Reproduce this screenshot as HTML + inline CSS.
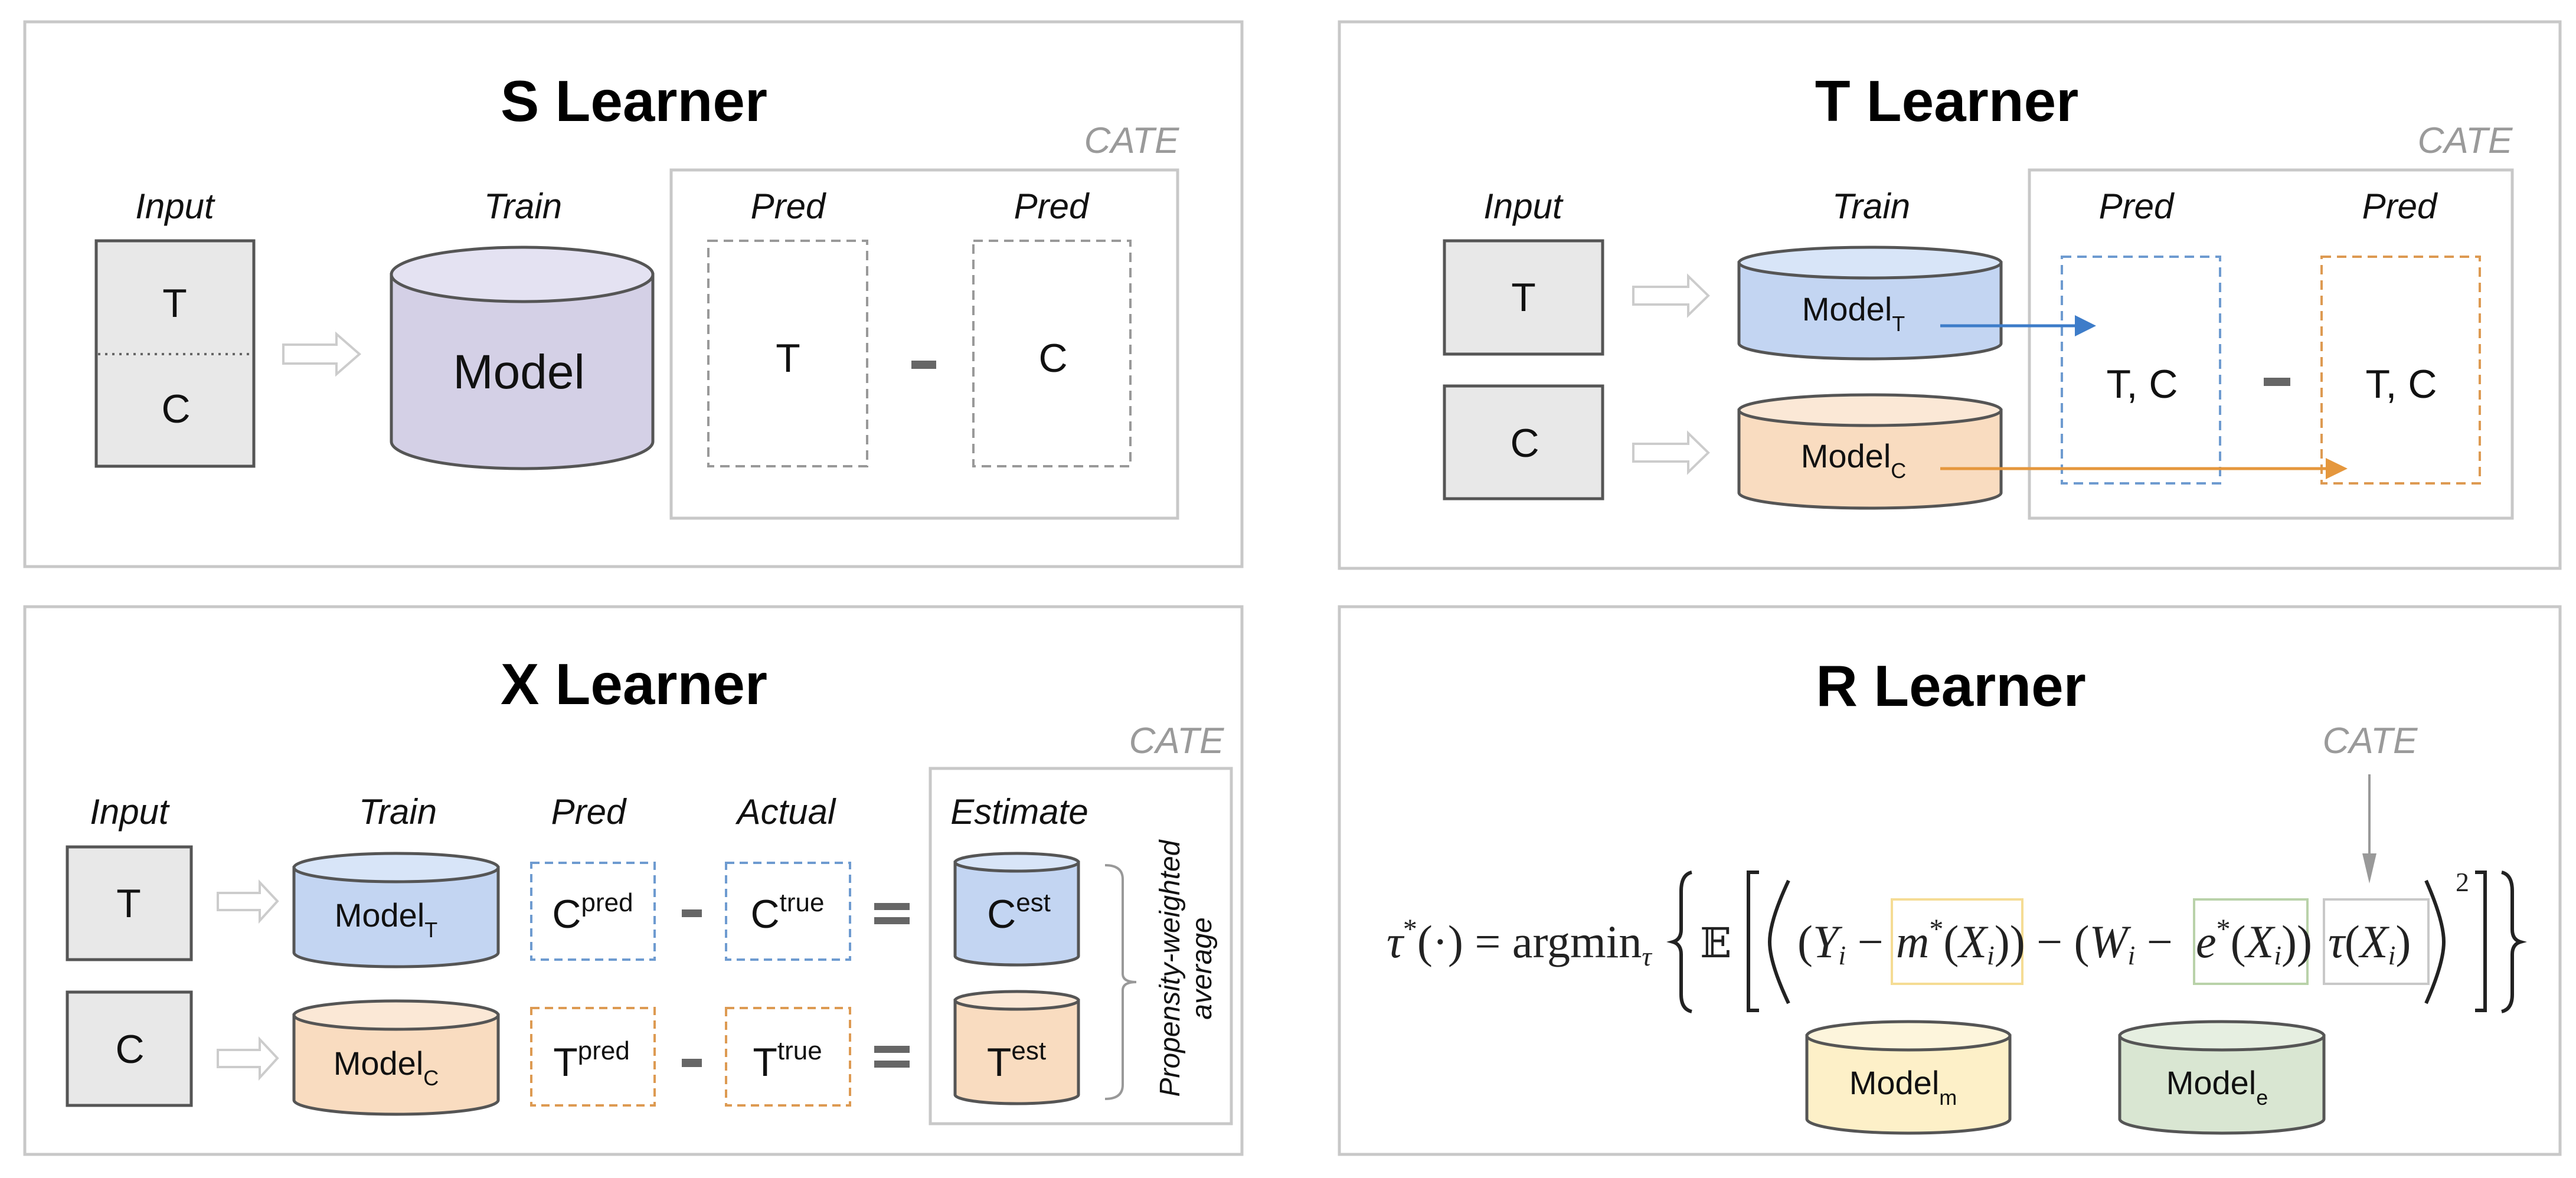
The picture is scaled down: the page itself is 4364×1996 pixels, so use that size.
<!DOCTYPE html>
<html><head><meta charset="utf-8"><style>
html,body{margin:0;padding:0;background:#fff}
svg{display:block}
.t{font-family:"Liberation Sans",sans-serif;font-weight:bold;font-size:98px;fill:#000;text-anchor:middle}
.l{font-family:"Liberation Sans",sans-serif;font-style:italic;font-size:60px;fill:#111;text-anchor:middle}
.c{font-family:"Liberation Sans",sans-serif;font-style:italic;font-size:62px;fill:#9a9a9a;text-anchor:middle}
.n{font-family:"Liberation Sans",sans-serif;font-size:68px;fill:#111;text-anchor:middle}
.m{font-family:"Liberation Sans",sans-serif;font-size:56px;fill:#111;text-anchor:middle}
.e{font-family:"Liberation Serif","DejaVu Serif",serif;font-size:78px;fill:#222}
</style></head><body>
<svg width="4364" height="1996" viewBox="0 0 4364 1996" xmlns="http://www.w3.org/2000/svg">
<g fill="none" stroke="#c8c8c8" stroke-width="5">
<rect x="42" y="37" width="2062" height="923"/>
<rect x="2269" y="37" width="2068" height="926"/>
<rect x="42" y="1028" width="2062" height="928"/>
<rect x="2269" y="1028" width="2068" height="928"/>
</g>

<!-- ===== S Learner ===== -->
<text class="t" x="1074" y="205">S Learner</text>
<text class="c" x="1917" y="259">CATE</text>
<rect x="1137" y="288" width="858" height="590" fill="none" stroke="#c8c8c8" stroke-width="5"/>
<text class="l" x="296" y="370">Input</text>
<text class="l" x="886" y="370">Train</text>
<text class="l" x="1335" y="370">Pred</text>
<text class="l" x="1781" y="370">Pred</text>
<rect x="163" y="408" width="267" height="382" fill="#e8e8e8" stroke="#555" stroke-width="5"/>
<line x1="166" y1="600" x2="428" y2="600" stroke="#666" stroke-width="4" stroke-dasharray="4 8"/>
<text class="n" x="296" y="537">T</text>
<text class="n" x="298" y="716">C</text>
<polygon points="480,584 570,584 570,566 609,600 570,634 570,616 480,616" fill="#fff" stroke="#ccc" stroke-width="4"/>
<path d="M663,465 L663,748 A221.5,46 0 0 0 1106,748 L1106,465 Z" fill="#d4d0e6" stroke="#555" stroke-width="5"/>
<ellipse cx="884.5" cy="465" rx="221.5" ry="46" fill="#e4e2f2" stroke="#555" stroke-width="5"/>
<text class="n" x="879" y="658" style="font-size:82px">Model</text>
<g fill="none" stroke="#999" stroke-width="4" stroke-dasharray="16 10">
<rect x="1200" y="408" width="269" height="382"/>
<rect x="1649" y="408" width="266" height="382"/>
</g>
<text class="n" x="1335" y="630">T</text>
<text class="n" x="1784" y="630">C</text>
<rect x="1544" y="611" width="42" height="14" fill="#666"/>

<!-- ===== T Learner ===== -->
<text class="t" x="3298" y="205">T Learner</text>
<text class="c" x="4176" y="259">CATE</text>
<rect x="3438" y="288" width="818" height="590" fill="none" stroke="#c8c8c8" stroke-width="5"/>
<text class="l" x="2580" y="370">Input</text>
<text class="l" x="3170" y="370">Train</text>
<text class="l" x="3619" y="370">Pred</text>
<text class="l" x="4065" y="370">Pred</text>
<rect x="2447" y="408" width="268" height="192" fill="#e8e8e8" stroke="#555" stroke-width="5"/>
<rect x="2447" y="654" width="268" height="191" fill="#e8e8e8" stroke="#555" stroke-width="5"/>
<text class="n" x="2581" y="527">T</text>
<text class="n" x="2583" y="774">C</text>
<polygon points="2767,486 2860,486 2860,468 2894,501 2860,534 2860,516 2767,516" fill="#fff" stroke="#ccc" stroke-width="4"/>
<polygon points="2767,752 2860,752 2860,734 2894,767 2860,800 2860,782 2767,782" fill="#fff" stroke="#ccc" stroke-width="4"/>
<path d="M2946,445 L2946,582 A222,26 0 0 0 3390,582 L3390,445 Z" fill="#c3d5f2" stroke="#555" stroke-width="5"/>
<ellipse cx="3168" cy="445" rx="222" ry="26" fill="#d8e5f8" stroke="#555" stroke-width="5"/>
<path d="M2946,695 L2946,835 A222,26 0 0 0 3390,835 L3390,695 Z" fill="#f9dcc0" stroke="#555" stroke-width="5"/>
<ellipse cx="3168" cy="695" rx="222" ry="26" fill="#fbe8d6" stroke="#555" stroke-width="5"/>
<text class="m" x="3140" y="543">Model<tspan font-size="36" dy="18">T</tspan></text>
<text class="m" x="3140" y="792">Model<tspan font-size="36" dy="18">C</tspan></text>
<rect x="3493" y="435" width="268" height="384" fill="none" stroke="#6e9bd0" stroke-width="4" stroke-dasharray="16 10"/>
<rect x="3933" y="435" width="268" height="384" fill="none" stroke="#dd9a52" stroke-width="4" stroke-dasharray="16 10"/>
<text class="n" x="3629" y="674">T, C</text>
<text class="n" x="4068" y="674">T, C</text>
<rect x="3835" y="640" width="45" height="14" fill="#666"/>
<line x1="3287" y1="552" x2="3520" y2="552" stroke="#3d7cc9" stroke-width="5"/>
<polygon points="3515,534 3551,552 3515,570" fill="#3d7cc9"/>
<line x1="3287" y1="794" x2="3945" y2="794" stroke="#e5973d" stroke-width="5"/>
<polygon points="3940,776 3977,794 3940,812" fill="#e5973d"/>

<!-- ===== X Learner ===== -->
<text class="t" x="1074" y="1193">X Learner</text>
<text class="c" x="1993" y="1276">CATE</text>
<rect x="1576" y="1302" width="510" height="602" fill="none" stroke="#c8c8c8" stroke-width="5"/>
<text class="l" x="219" y="1396">Input</text>
<text class="l" x="674" y="1396">Train</text>
<text class="l" x="997" y="1396">Pred</text>
<text class="l" x="1332" y="1396">Actual</text>
<text class="l" x="1727" y="1396">Estimate</text>
<rect x="114" y="1435" width="210" height="191" fill="#e8e8e8" stroke="#555" stroke-width="5"/>
<rect x="114" y="1681" width="210" height="192" fill="#e8e8e8" stroke="#555" stroke-width="5"/>
<text class="n" x="218" y="1554">T</text>
<text class="n" x="220" y="1801">C</text>
<polygon points="369,1513 440,1513 440,1495 470,1527 440,1560 440,1542 369,1542" fill="#fff" stroke="#ccc" stroke-width="4"/>
<polygon points="369,1779 440,1779 440,1761 470,1793 440,1826 440,1808 369,1808" fill="#fff" stroke="#ccc" stroke-width="4"/>
<path d="M498,1470 L498,1614 A173,24 0 0 0 844,1614 L844,1470 Z" fill="#c3d5f2" stroke="#555" stroke-width="5"/>
<ellipse cx="671" cy="1470" rx="173" ry="24" fill="#d8e5f8" stroke="#555" stroke-width="5"/>
<path d="M498,1720 L498,1864 A173,24 0 0 0 844,1864 L844,1720 Z" fill="#f9dcc0" stroke="#555" stroke-width="5"/>
<ellipse cx="671" cy="1720" rx="173" ry="24" fill="#fbe8d6" stroke="#555" stroke-width="5"/>
<text class="m" x="654" y="1570">Model<tspan font-size="36" dy="18">T</tspan></text>
<text class="m" x="654" y="1821">Model<tspan font-size="36" dy="18">C</tspan></text>
<g fill="none" stroke-width="4" stroke-dasharray="14 9">
<rect x="900" y="1462" width="209" height="164" stroke="#6e9bd0"/>
<rect x="1230" y="1462" width="210" height="164" stroke="#6e9bd0"/>
<rect x="900" y="1708" width="209" height="165" stroke="#dd9a52"/>
<rect x="1230" y="1708" width="210" height="165" stroke="#dd9a52"/>
</g>
<text class="n" x="1004" y="1572">C<tspan font-size="44" dy="-28">pred</tspan></text>
<text class="n" x="1334" y="1572">C<tspan font-size="44" dy="-28">true</tspan></text>
<text class="n" x="1002" y="1823">T<tspan font-size="44" dy="-28">pred</tspan></text>
<text class="n" x="1334" y="1823">T<tspan font-size="44" dy="-28">true</tspan></text>
<rect x="1155" y="1541" width="34" height="13" fill="#666"/>
<rect x="1155" y="1794" width="34" height="14" fill="#666"/>
<g fill="#666">
<rect x="1481" y="1530" width="60" height="12"/><rect x="1481" y="1554" width="60" height="12"/>
<rect x="1481" y="1772" width="60" height="12"/><rect x="1481" y="1797" width="60" height="12"/>
</g>
<path d="M1618,1461 L1618,1620 A104.5,15 0 0 0 1827,1620 L1827,1461 Z" fill="#c3d5f2" stroke="#555" stroke-width="5"/>
<ellipse cx="1722.5" cy="1461" rx="104.5" ry="15" fill="#d8e5f8" stroke="#555" stroke-width="5"/>
<path d="M1618,1695 L1618,1855 A104.5,15 0 0 0 1827,1855 L1827,1695 Z" fill="#f9dcc0" stroke="#555" stroke-width="5"/>
<ellipse cx="1722.5" cy="1695" rx="104.5" ry="15" fill="#fbe8d6" stroke="#555" stroke-width="5"/>
<text class="n" x="1726" y="1572">C<tspan font-size="44" dy="-28">est</tspan></text>
<text class="n" x="1722" y="1823">T<tspan font-size="44" dy="-28">est</tspan></text>
<path d="M1872,1466 Q1902,1466 1902,1490 L1902,1650 Q1902,1664 1925,1664 Q1902,1664 1902,1678 L1902,1838 Q1902,1862 1872,1862" fill="none" stroke="#999" stroke-width="4"/>
<g transform="translate(2012,1641) rotate(-90)">
<text class="l" x="0" y="-14" style="font-size:48px;fill:#111">Propensity-weighted</text>
<text class="l" x="0" y="40" style="font-size:48px;fill:#111">average</text>
</g>

<!-- ===== R Learner ===== -->
<text class="t" x="3305" y="1196">R Learner</text>
<text class="c" x="4015" y="1276">CATE</text>
<line x1="4014" y1="1312" x2="4014" y2="1450" stroke="#999" stroke-width="4"/>
<polygon points="4002,1446 4026,1446 4014,1497" fill="#999"/>
<rect x="3205" y="1524" width="221" height="143" fill="none" stroke="#f5dc94" stroke-width="4"/>
<rect x="3717" y="1524" width="192" height="143" fill="none" stroke="#b9d2a9" stroke-width="4"/>
<rect x="3937" y="1524" width="177" height="143" fill="none" stroke="#c8c8c8" stroke-width="4"/>
<text class="e" x="2349" y="1622"><tspan font-style="italic">τ</tspan><tspan font-size="48" dy="-32">*</tspan><tspan dy="32">(·) = argmin</tspan><tspan font-size="46" dy="14" font-style="italic">τ</tspan></text>
<text class="e" x="2880" y="1622" style="font-family:'DejaVu Serif',serif;font-size:70px">𝔼</text>
<text class="e" x="3045" y="1622">(<tspan font-style="italic">Y</tspan><tspan font-size="46" dy="12" font-style="italic">i</tspan><tspan dy="-12"> −</tspan></text>
<text class="e" x="3212" y="1622"><tspan font-style="italic">m</tspan><tspan font-size="48" dy="-32">*</tspan><tspan dy="32">(</tspan><tspan font-style="italic">X</tspan><tspan font-size="46" dy="12" font-style="italic">i</tspan><tspan dy="-12">))</tspan></text>
<text class="e" x="3450" y="1622">− (<tspan font-style="italic">W</tspan><tspan font-size="46" dy="12" font-style="italic">i</tspan><tspan dy="-12"> −</tspan></text>
<text class="e" x="3720" y="1622"><tspan font-style="italic">e</tspan><tspan font-size="48" dy="-32">*</tspan><tspan dy="32">(</tspan><tspan font-style="italic">X</tspan><tspan font-size="46" dy="12" font-style="italic">i</tspan><tspan dy="-12">))</tspan></text>
<text class="e" x="3944" y="1622"><tspan font-style="italic">τ</tspan>(<tspan font-style="italic">X</tspan><tspan font-size="46" dy="12" font-style="italic">i</tspan><tspan dy="-12">)</tspan></text>
<text class="e" x="4160" y="1510" style="font-size:46px">2</text>
<g fill="none" stroke="#222" stroke-width="6">
<path d="M2866,1478 Q2848,1482 2848,1510 L2848,1575 Q2848,1592 2834,1596 Q2848,1600 2848,1617 L2848,1685 Q2848,1710 2866,1714"/>
<path d="M2980,1478 L2962,1478 L2962,1712 L2980,1712"/>
<path d="M3030,1492 Q2998,1560 2998,1596 Q2998,1632 3030,1700"/>
<path d="M4110,1492 Q4140,1560 4140,1596 Q4140,1632 4110,1700"/>
<path d="M4193,1478 L4210,1478 L4210,1712 L4193,1712"/>
<path d="M4238,1478 Q4256,1482 4256,1510 L4256,1575 Q4256,1592 4270,1596 Q4256,1600 4256,1617 L4256,1685 Q4256,1710 4238,1714"/>
</g>
<path d="M3061,1755 L3061,1896 A172,24 0 0 0 3405,1896 L3405,1755 Z" fill="#fdf0c8" stroke="#555" stroke-width="5"/>
<ellipse cx="3233" cy="1755" rx="172" ry="24" fill="#fdf5dc" stroke="#555" stroke-width="5"/>
<path d="M3591,1755 L3591,1896 A173,24 0 0 0 3937,1896 L3937,1755 Z" fill="#d9e6d2" stroke="#555" stroke-width="5"/>
<ellipse cx="3764" cy="1755" rx="173" ry="24" fill="#e6efe1" stroke="#555" stroke-width="5"/>
<text class="m" x="3224" y="1854">Model<tspan font-size="36" dy="18">m</tspan></text>
<text class="m" x="3756" y="1854">Model<tspan font-size="36" dy="18">e</tspan></text>
</svg>
</body></html>
